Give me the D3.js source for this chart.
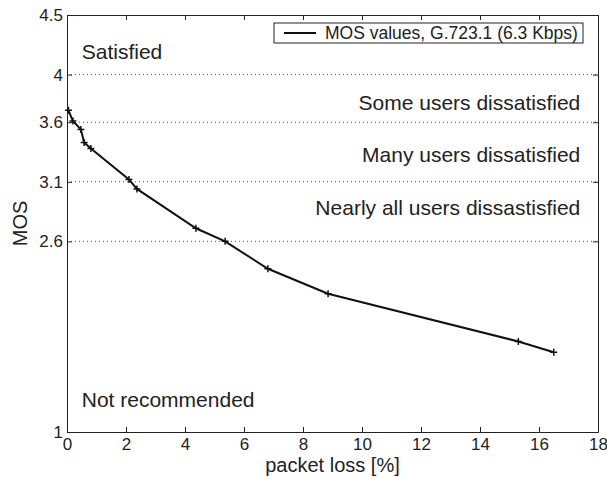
<!DOCTYPE html>
<html>
<head>
<meta charset="utf-8">
<script src="https://cdn.jsdelivr.net/npm/d3@7"></script>
<style>
  body { margin: 0; background: #fff; }
  text { font-family: "Liberation Sans", Arial, sans-serif; fill: #222; }
</style>
</head>
<body>
<div id="chart"></div>
<script>
// packet loss [%] and MOS
const packetLoss = [0.05, 0.2, 0.47, 0.58, 0.81, 2.1, 2.37, 4.37, 5.36, 6.81, 8.85, 15.3, 16.5]
const mosValues = [3.70, 3.61, 3.54, 3.43, 3.38, 3.12, 3.04, 2.71, 2.60, 2.37, 2.16, 1.76, 1.67]
const xTicks = [0, 2, 4, 6, 8, 10, 12, 14, 16, 18]
const yTicks = [1, 2.6, 3.1, 3.6, 4, 4.5]
const gridLevels = [2.6, 3.1, 3.6, 4]
const zoneLabels = [
  { text: "Satisfied", y: 4.13, side: "left" },
  { text: "Some users dissatisfied", y: 3.70, side: "right" },
  { text: "Many users dissatisfied", y: 3.27, side: "right" },
  { text: "Nearly all users dissastisfied", y: 2.82, side: "right" },
  { text: "Not recommended", y: 1.21, side: "left" }
]
const seriesName = "MOS values, G.723.1 (6.3 Kbps)"

const width = 607, height = 479
const margin = { top: 15, right: 9, bottom: 47, left: 67 }

const svg = d3.select("#chart").append("svg")
  .attr("width", width)
  .attr("height", height)

const x = d3.scaleLinear().domain([0, 18]).range([margin.left, width - margin.right])
const y = d3.scaleLinear().domain([1, 4.5]).range([height - margin.bottom, margin.top])

// dotted grid
svg.append("g")
  .selectAll("line")
  .data(gridLevels)
  .join("line")
  .attr("x1", x(0)).attr("x2", x(18))
  .attr("y1", d => y(d)).attr("y2", d => y(d))
  .attr("stroke", "#555")
  .attr("stroke-width", 1)
  .attr("stroke-dasharray", "1,3")

// axes with inward ticks
const axisStyle = g => {
  g.select(".domain").attr("stroke", "#222")
  g.selectAll(".tick line").attr("stroke", "#222")
  g.selectAll(".tick text").attr("font-size", 17).attr("fill", "#222")
    .attr("font-family", "Liberation Sans, Arial, sans-serif")
}

svg.append("g")
  .attr("transform", `translate(0,${y(1)})`)
  .call(d3.axisBottom(x).tickValues(xTicks).tickFormat(d3.format("d")).tickSizeInner(-5).tickSizeOuter(0).tickPadding(6))
  .call(axisStyle)

svg.append("g")
  .attr("transform", `translate(0,${y(4.5)})`)
  .call(d3.axisTop(x).tickValues(xTicks).tickFormat("").tickSizeInner(-5).tickSizeOuter(0))
  .call(axisStyle)

svg.append("g")
  .attr("transform", `translate(${x(0)},0)`)
  .call(d3.axisLeft(y).tickValues(yTicks).tickFormat(d => d).tickSizeInner(-5).tickSizeOuter(0).tickPadding(4))
  .call(axisStyle)

svg.append("g")
  .attr("transform", `translate(${x(18)},0)`)
  .call(d3.axisRight(y).tickValues(yTicks).tickFormat("").tickSizeInner(-5).tickSizeOuter(0))
  .call(axisStyle)

// zone labels
svg.append("g")
  .selectAll("text")
  .data(zoneLabels)
  .join("text")
  .attr("x", d => d.side === "left" ? x(0.5) : x(17.4))
  .attr("y", d => y(d.y))
  .attr("text-anchor", d => d.side === "left" ? "start" : "end")
  .attr("font-size", 21)
  .text(d => d.text)

// series
const points = packetLoss.map((v, i) => [v, mosValues[i]])
svg.append("path")
  .datum(points)
  .attr("fill", "none")
  .attr("stroke", "#111")
  .attr("stroke-width", 2)
  .attr("d", d3.line().x(d => x(d[0])).y(d => y(d[1])))

svg.append("g")
  .selectAll("path")
  .data(points)
  .join("path")
  .attr("transform", d => `translate(${x(d[0])},${y(d[1])})`)
  .attr("d", "M-3.5,0H3.5M0,-3.5V3.5")
  .attr("stroke", "#111")
  .attr("stroke-width", 1.5)

// legend
const legend = svg.append("g")
legend.append("rect")
  .attr("x", 274).attr("y", 23).attr("width", 309).attr("height", 20)
  .attr("fill", "#fff").attr("stroke", "#222")
legend.append("line")
  .attr("x1", 284).attr("x2", 316).attr("y1", 33).attr("y2", 33)
  .attr("stroke", "#111").attr("stroke-width", 2)
legend.append("text")
  .attr("x", 325).attr("y", 33).attr("dy", "0.35em")
  .attr("font-size", 17.5)
  .text(seriesName)

// axis titles
svg.append("text")
  .attr("x", (x(0) + x(18)) / 2)
  .attr("y", 472)
  .attr("text-anchor", "middle")
  .attr("font-size", 20)
  .text("packet loss [%]")

svg.append("text")
  .attr("transform", `translate(27,${(y(1) + y(4.5)) / 2}) rotate(-90)`)
  .attr("text-anchor", "middle")
  .attr("font-size", 20)
  .text("MOS")
</script>
</body>
</html>
